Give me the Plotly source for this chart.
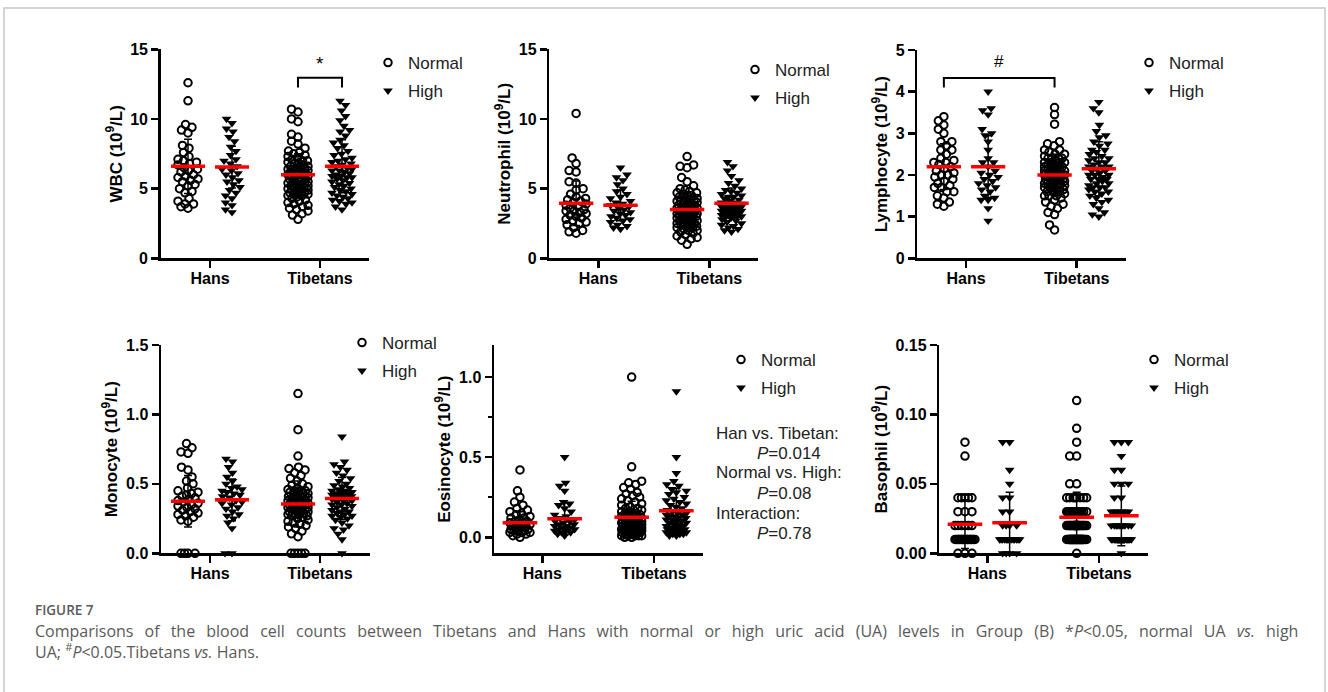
import numpy as np
import plotly.graph_objects as go

W, H = 1328, 692

categories = ["Hans", "Tibetans"]
ua_levels = ["Normal", "High"]

# ---------------- data ----------------
wbc_hans_normal = [12.6, 11.3, 9.6, 9.4, 9.2, 9.0, 8.1, 7.9, 7.6, 7.3, 7.1, 7.0, 6.9, 6.8, 6.7, 6.5, 6.4, 6.3,
                   6.2, 6.0, 5.9, 5.8, 5.7, 5.6, 5.5, 5.3, 5.2, 5.0, 4.8, 4.7, 4.3, 4.1, 3.9, 3.9, 3.7, 3.6]
wbc_hans_high = [10.0, 9.7, 9.3, 9.1, 8.7, 8.4, 8.0, 7.7, 7.4, 7.1, 7.0, 6.8, 6.6, 6.4, 6.3, 6.1, 6.0, 5.8,
                 5.6, 5.5, 5.3, 5.1, 4.9, 4.7, 4.5, 4.3, 4.0, 3.8, 3.5, 3.3]
wbc_tib_normal = [10.7, 10.5, 10.0, 9.8, 8.9, 8.7, 8.4, 8.2, 7.9, 7.7, 7.6, 7.5, 7.4, 7.3, 7.2, 7.1, 7.0, 7.0,
                  6.9, 6.8, 6.8, 6.7, 6.6, 6.6, 6.5, 6.5, 6.4, 6.4, 6.3, 6.3, 6.2, 6.2, 6.1, 6.1, 6.0, 6.0,
                  5.9, 5.9, 5.8, 5.8, 5.7, 5.7, 5.6, 5.6, 5.5, 5.5, 5.4, 5.4, 5.3, 5.3, 5.2, 5.2, 5.1, 5.1,
                  5.0, 5.0, 4.9, 4.9, 4.8, 4.8, 4.7, 4.7, 4.7, 4.6, 4.6, 4.5, 4.5, 4.4, 4.3, 4.2, 4.1, 4.0,
                  3.9, 3.8, 3.7, 3.6, 3.5, 3.4, 3.2, 3.1, 2.8, 6.0, 6.2, 5.9, 6.4]
wbc_tib_high = [11.3, 11.0, 10.6, 10.2, 9.9, 9.5, 9.2, 9.1, 8.8, 8.5, 8.3, 8.1, 7.9, 7.7, 7.5, 7.4, 7.2, 7.1,
                7.0, 6.9, 6.8, 6.7, 6.6, 6.5, 6.4, 6.3, 6.2, 6.1, 6.0, 5.9, 5.9, 5.8, 5.8, 5.7, 5.6, 5.5,
                5.4, 5.3, 5.2, 5.1, 5.0, 4.9, 4.8, 4.7, 4.6, 4.5, 4.4, 4.3, 4.2, 4.1, 4.0, 3.9, 3.7, 3.5, 6.3]

neu_hans_normal = [10.4, 7.2, 6.8, 6.3, 6.2, 5.5, 5.4, 5.0, 4.9, 4.6, 4.4, 4.3, 4.2, 4.1, 4.0, 3.9, 3.8, 3.7,
                   3.6, 3.5, 3.4, 3.4, 3.3, 3.2, 3.1, 3.0, 2.9, 2.8, 2.7, 2.6, 2.5, 2.4, 2.2, 2.0, 1.9, 1.8]
neu_hans_high = [6.5, 6.0, 5.8, 5.6, 5.3, 5.0, 4.8, 4.6, 4.4, 4.3, 4.1, 4.0, 3.9, 3.8, 3.7, 3.6, 3.5, 3.4,
                 3.3, 3.2, 3.1, 3.0, 2.9, 2.8, 2.7, 2.6, 2.4, 2.3, 2.2, 2.1]
neu_tib_normal = [7.3, 6.7, 6.6, 6.5, 5.8, 5.5, 5.2, 5.0, 4.9, 4.8, 4.7, 4.7, 4.6, 4.5, 4.5, 4.4, 4.3, 4.3,
                  4.2, 4.1, 4.1, 4.0, 4.0, 3.9, 3.9, 3.8, 3.8, 3.7, 3.7, 3.6, 3.6, 3.5, 3.5, 3.4, 3.4, 3.4,
                  3.3, 3.3, 3.2, 3.2, 3.1, 3.1, 3.0, 3.0, 3.0, 2.9, 2.9, 2.8, 2.8, 2.7, 2.7, 2.6, 2.6, 2.5,
                  2.5, 2.4, 2.4, 2.3, 2.3, 2.2, 2.2, 2.1, 2.0, 2.0, 1.9, 1.8, 1.7, 1.6, 1.5, 1.4, 1.3, 1.0,
                  3.5, 3.6, 3.2, 2.9, 4.2, 3.8, 2.5, 3.1]
neu_tib_high = [6.9, 6.6, 6.3, 5.9, 5.6, 5.4, 5.2, 5.0, 4.9, 4.8, 4.7, 4.6, 4.5, 4.4, 4.3, 4.2, 4.1, 4.0,
                4.0, 3.9, 3.9, 3.8, 3.8, 3.7, 3.7, 3.6, 3.6, 3.5, 3.5, 3.4, 3.4, 3.3, 3.3, 3.2, 3.2, 3.1,
                3.1, 3.0, 3.0, 2.9, 2.8, 2.7, 2.6, 2.5, 2.4, 2.3, 2.2, 2.1, 2.0, 1.9, 3.6, 3.9, 4.4, 3.4, 3.0]

lym_hans_normal = [3.4, 3.3, 3.2, 3.1, 3.0, 2.8, 2.8, 2.7, 2.6, 2.6, 2.5, 2.4, 2.35, 2.3, 2.3, 2.25, 2.2,
                   2.15, 2.1, 2.05, 2.0, 2.0, 1.95, 1.9, 1.85, 1.8, 1.75, 1.7, 1.7, 1.6, 1.6, 1.5, 1.45,
                   1.35, 1.3, 1.25]
lym_hans_high = [4.0, 3.6, 3.55, 3.45, 3.1, 3.0, 2.95, 2.8, 2.6, 2.4, 2.3, 2.3, 2.2, 2.1, 2.05, 2.0, 1.95,
                 1.9, 1.85, 1.8, 1.75, 1.7, 1.65, 1.6, 1.5, 1.45, 1.4, 1.4, 1.2, 0.9]
lym_tib_normal = [3.62, 3.45, 3.22, 2.8, 2.75, 2.6, 2.55, 2.5, 2.45, 2.4, 2.4, 2.35, 2.3, 2.3, 2.25, 2.25,
                  2.2, 2.2, 2.15, 2.15, 2.1, 2.1, 2.1, 2.05, 2.05, 2.0, 2.0, 2.0, 1.95, 1.95, 1.9, 1.9, 1.9,
                  1.85, 1.85, 1.8, 1.8, 1.75, 1.75, 1.7, 1.7, 1.65, 1.65, 1.6, 1.6, 1.55, 1.5, 1.5, 1.45,
                  1.4, 1.35, 1.3, 1.25, 1.2, 1.1, 1.05, 0.8, 0.68, 2.4, 2.2, 2.0, 1.8, 1.6, 2.5, 2.3, 2.1,
                  1.9, 1.7, 2.6, 2.2, 2.0, 1.8, 1.5, 2.4, 2.1, 1.9, 1.7, 2.3, 2.0, 2.7]
lym_tib_high = [3.75, 3.6, 3.5, 3.2, 3.05, 2.95, 2.8, 2.75, 2.7, 2.6, 2.55, 2.5, 2.45, 2.4, 2.35, 2.3, 2.25,
                2.2, 2.2, 2.15, 2.1, 2.1, 2.05, 2.0, 2.0, 1.95, 1.9, 1.9, 1.85, 1.8, 1.8, 1.75, 1.7, 1.7,
                1.65, 1.6, 1.6, 1.55, 1.5, 1.45, 1.4, 1.35, 1.3, 1.2, 1.1, 1.05, 1.0, 2.4, 2.0, 1.9, 2.3,
                1.7, 2.6, 2.9, 2.2]

mon_hans_normal = [0.79, 0.76, 0.73, 0.72, 0.62, 0.60, 0.55, 0.52, 0.50, 0.47, 0.45, 0.44, 0.43, 0.42,
                   0.41, 0.40, 0.39, 0.38, 0.37, 0.36, 0.35, 0.34, 0.33, 0.32, 0.31, 0.30, 0.29, 0.28,
                   0.27, 0.26, 0.24, 0.23, 0.0, 0.0, 0.0, 0.0]
mon_hans_high = [0.68, 0.66, 0.62, 0.58, 0.55, 0.52, 0.50, 0.48, 0.47, 0.46, 0.45, 0.44, 0.43, 0.42, 0.41,
                 0.40, 0.38, 0.37, 0.36, 0.35, 0.33, 0.32, 0.30, 0.28, 0.27, 0.25, 0.22, 0.18, 0.0, 0.0]
mon_tib_normal = [1.15, 0.89, 0.70, 0.62, 0.61, 0.60, 0.58, 0.56, 0.54, 0.52, 0.50, 0.49, 0.48, 0.47,
                  0.46, 0.45, 0.45, 0.44, 0.44, 0.43, 0.43, 0.42, 0.42, 0.41, 0.41, 0.40, 0.40, 0.39,
                  0.39, 0.38, 0.38, 0.37, 0.37, 0.36, 0.36, 0.35, 0.35, 0.34, 0.34, 0.33, 0.33, 0.32,
                  0.32, 0.31, 0.31, 0.30, 0.30, 0.30, 0.29, 0.29, 0.28, 0.28, 0.27, 0.27, 0.26, 0.25,
                  0.24, 0.23, 0.22, 0.21, 0.20, 0.19, 0.18, 0.16, 0.14, 0.12, 0.0, 0.0, 0.0, 0.0, 0.0,
                  0.40, 0.35, 0.45, 0.30, 0.42, 0.38, 0.33, 0.28, 0.36]
mon_tib_high = [0.84, 0.66, 0.64, 0.62, 0.60, 0.58, 0.56, 0.54, 0.52, 0.50, 0.49, 0.48, 0.47, 0.46, 0.45,
                0.44, 0.44, 0.43, 0.43, 0.42, 0.42, 0.41, 0.40, 0.40, 0.39, 0.38, 0.37, 0.36, 0.35, 0.34,
                0.33, 0.32, 0.31, 0.30, 0.29, 0.28, 0.27, 0.26, 0.25, 0.24, 0.22, 0.20, 0.18, 0.17, 0.14,
                0.10, 0.0, 0.41, 0.43, 0.45, 0.38, 0.35, 0.30, 0.27, 0.42]

eos_hans_normal = [0.42, 0.29, 0.25, 0.22, 0.20, 0.18, 0.17, 0.16, 0.15, 0.14, 0.13, 0.12, 0.12, 0.11,
                   0.10, 0.10, 0.09, 0.09, 0.08, 0.08, 0.07, 0.07, 0.06, 0.06, 0.05, 0.05, 0.04, 0.04,
                   0.04, 0.03, 0.03, 0.03, 0.02, 0.02, 0.01, 0.0]
eos_hans_high = [0.50, 0.34, 0.32, 0.29, 0.22, 0.21, 0.20, 0.18, 0.16, 0.14, 0.13, 0.12, 0.11, 0.10, 0.10,
                 0.09, 0.08, 0.08, 0.07, 0.07, 0.06, 0.06, 0.05, 0.05, 0.04, 0.04, 0.03, 0.03, 0.02, 0.01]
eos_tib_normal = [1.0, 0.44, 0.35, 0.34, 0.33, 0.31, 0.30, 0.28, 0.27, 0.26, 0.25, 0.24, 0.23, 0.22, 0.21,
                  0.20, 0.19, 0.18, 0.18, 0.17, 0.17, 0.16, 0.16, 0.15, 0.15, 0.14, 0.14, 0.13, 0.13,
                  0.12, 0.12, 0.12, 0.11, 0.11, 0.11, 0.10, 0.10, 0.10, 0.09, 0.09, 0.09, 0.08, 0.08,
                  0.08, 0.07, 0.07, 0.07, 0.07, 0.06, 0.06, 0.06, 0.06, 0.05, 0.05, 0.05, 0.05, 0.04,
                  0.04, 0.04, 0.04, 0.03, 0.03, 0.03, 0.03, 0.02, 0.02, 0.02, 0.02, 0.01, 0.01, 0.01,
                  0.01, 0.01, 0.0, 0.0, 0.05, 0.06, 0.08, 0.09, 0.10, 0.12, 0.13, 0.07, 0.04, 0.03]
eos_tib_high = [0.91, 0.50, 0.40, 0.35, 0.33, 0.32, 0.30, 0.29, 0.28, 0.27, 0.25, 0.24, 0.23, 0.22, 0.21,
                0.20, 0.19, 0.18, 0.17, 0.16, 0.15, 0.15, 0.14, 0.13, 0.13, 0.12, 0.11, 0.11, 0.10, 0.10,
                0.09, 0.09, 0.08, 0.08, 0.07, 0.07, 0.06, 0.06, 0.05, 0.05, 0.04, 0.04, 0.04, 0.03, 0.03,
                0.03, 0.02, 0.02, 0.02, 0.01, 0.01, 0.12, 0.14, 0.06, 0.05]

bas_hans_normal = [0.08, 0.07, 0.04, 0.04, 0.04, 0.04, 0.04, 0.03, 0.03, 0.03, 0.02, 0.02, 0.02, 0.02,
                   0.02, 0.02, 0.01, 0.01, 0.01, 0.01, 0.01, 0.01, 0.01, 0.01, 0.01, 0.01, 0.01, 0.01,
                   0.01, 0.01, 0.01, 0.01, 0.01, 0.0, 0.0, 0.0]
bas_hans_high = [0.08, 0.08, 0.06, 0.05, 0.04, 0.04, 0.03, 0.03, 0.02, 0.02, 0.02, 0.02, 0.01, 0.01, 0.01,
                 0.01, 0.01, 0.01, 0.01, 0.01, 0.01, 0.01, 0.01, 0.01, 0.01, 0.01, 0.0, 0.0, 0.0, 0.0]
bas_tib_normal = [0.11, 0.09, 0.08, 0.07, 0.07, 0.05, 0.05, 0.04, 0.04, 0.04, 0.04, 0.04, 0.04, 0.04, 0.04,
                  0.03, 0.03, 0.03, 0.03, 0.03, 0.03, 0.03, 0.03, 0.03, 0.03, 0.03, 0.03,
                  0.02, 0.02, 0.02, 0.02, 0.02, 0.02, 0.02, 0.02, 0.02, 0.02, 0.02, 0.02, 0.02, 0.02,
                  0.02, 0.02, 0.02, 0.02, 0.02, 0.02, 0.02, 0.02,
                  0.01, 0.01, 0.01, 0.01, 0.01, 0.01, 0.01, 0.01, 0.01, 0.01, 0.01, 0.01, 0.01, 0.01,
                  0.01, 0.01, 0.01, 0.01, 0.01, 0.01, 0.01, 0.01, 0.01, 0.01, 0.01, 0.01, 0.01, 0.01,
                  0.01, 0.01, 0.01, 0.01, 0.01, 0.01, 0.0]
bas_tib_high = [0.08, 0.08, 0.08, 0.07, 0.06, 0.06, 0.05, 0.05, 0.05, 0.04, 0.04, 0.03, 0.03, 0.03, 0.03,
                0.03, 0.03, 0.02, 0.02, 0.02, 0.02, 0.02, 0.02, 0.02, 0.02, 0.02, 0.02,
                0.01, 0.01, 0.01, 0.01, 0.01, 0.01, 0.01, 0.01, 0.01, 0.01, 0.01, 0.01, 0.01, 0.01,
                0.01, 0.01, 0.01, 0.01, 0.01, 0.01, 0.01, 0.01, 0.01, 0.01, 0.01, 0.01, 0.0]

# group means and SDs, order: Hans-Normal, Hans-High, Tibetans-Normal, Tibetans-High
wbc_mean = [6.6, 6.55, 6.0, 6.6]
wbc_sd = [1.95, 1.5, 1.5, 1.9]
neu_mean = [3.95, 3.8, 3.5, 3.95]
neu_sd = [1.6, 1.1, 1.2, 1.1]
lym_mean = [2.2, 2.2, 2.0, 2.15]
lym_sd = [0.55, 0.74, 0.5, 0.65]
mon_mean = [0.375, 0.385, 0.355, 0.395]
mon_sd = [0.185, 0.15, 0.165, 0.15]
eos_mean = [0.09, 0.115, 0.125, 0.165]
eos_sd = [0.07, 0.1, 0.1, 0.14]
bas_mean = [0.021, 0.022, 0.026, 0.027]
bas_sd = [0.0175, 0.022, 0.018, 0.0215]

titles = ["WBC (10<sup>9</sup>/L)", "Neutrophil (10<sup>9</sup>/L)", "Lymphocyte (10<sup>9</sup>/L)",
          "Monocyte (10<sup>9</sup>/L)", "Eosinocyte (10<sup>9</sup>/L)", "Basophil (10<sup>9</sup>/L)"]
ytick_vals = [[0, 5, 10, 15], [0, 5, 10, 15], [0, 1, 2, 3, 4, 5], [0, 0.5, 1.0, 1.5], [0, 0.5, 1.0],
              [0, 0.05, 0.10, 0.15]]
ytick_text = [["0", "5", "10", "15"], ["0", "5", "10", "15"], ["0", "1", "2", "3", "4", "5"],
              ["0.0", "0.5", "1.0", "1.5"], ["0.0", "0.5", "1.0"], ["0.00", "0.05", "0.10", "0.15"]]
y_ranges = [[0, 15], [0, 15], [0, 5], [0, 1.5], [-0.1, 1.2], [0, 0.15]]

stats_text = ["Han vs. Tibetan:", "<i>P</i>=0.014", "Normal vs. High:", "<i>P</i>=0.08",
              "Interaction:", "<i>P</i>=0.78"]

caption_label = "FIGURE 7"
caption_line1 = ("Comparisons of the blood cell counts between Tibetans and Hans with normal or high "
                 "uric acid (UA) levels in Group (B) *<i>P</i>&lt;0.05, normal UA <i>vs.</i> high")
caption_line2 = "UA; <sup>#</sup><i>P</i>&lt;0.05.Tibetans <i>vs.</i> Hans."

panels_data = [
    (wbc_hans_normal, wbc_hans_high, wbc_tib_normal, wbc_tib_high, wbc_mean, wbc_sd),
    (neu_hans_normal, neu_hans_high, neu_tib_normal, neu_tib_high, neu_mean, neu_sd),
    (lym_hans_normal, lym_hans_high, lym_tib_normal, lym_tib_high, lym_mean, lym_sd),
    (mon_hans_normal, mon_hans_high, mon_tib_normal, mon_tib_high, mon_mean, mon_sd),
    (eos_hans_normal, eos_hans_high, eos_tib_normal, eos_tib_high, eos_mean, eos_sd),
    (bas_hans_normal, bas_hans_high, bas_tib_normal, bas_tib_high, bas_mean, bas_sd),
]

# ---------------- layout geometry (pixels) ----------------
# plot box: x0, x1, y_top, y_bottom ; pixel of Hans / Tibetans ticks
boxes = [(160.7, 369, 49.3, 258.3, 210, 320),
         (549.3, 758, 49.3, 258.3, 598.3, 709.3),
         (917.3, 1126, 50, 258.3, 966, 1076.7),
         (161, 370, 345, 553.3, 210, 320),
         (494, 702.7, 345, 553.3, 542.3, 654),
         (939.3, 1148, 345, 553.3, 987.3, 1099)]
legend_pos = [(388, 63), (755, 70), (1149, 63), (362, 343), (741, 360), (1154, 360)]

OFF = 0.2       # dodge of Normal/High within a group (category units)
HALF = 0.155    # half length of mean line
FONT = "Liberation Sans, Arial, sans-serif"


def swarm(vals, ppu, d=6.8, maxhalf=10.0):
    ys = np.asarray(vals, float) * ppu
    order = np.argsort(ys, kind="stable")
    cands = np.arange(-maxhalf, maxhalf + 0.01, 0.5)
    cands = cands[np.argsort(np.abs(cands), kind="stable")]
    xs = np.zeros(len(ys))
    px, py = [], []
    for i in order:
        y = ys[i]
        x = 0.0
        if px:
            ax = np.array(px)
            ay = np.array(py)
            near = np.abs(ay - y) < d
            if near.any():
                dx = cands[:, None] - ax[near][None, :]
                dy = (ay[near] - y)[None, :]
                dist = np.sqrt(dx ** 2 + dy ** 2).min(axis=1)
                ok = dist >= d
                x = cands[np.argmax(ok)] if ok.any() else cands[np.argmax(dist)]
        xs[i] = x
        px.append(x)
        py.append(y)
    return xs


fig = go.Figure()
layout = {}

for k, (box, data) in enumerate(zip(boxes, panels_data)):
    n = k + 1
    sfx = "" if n == 1 else str(n)
    x0, x1, yt, yb, ph, pt = box
    scale = pt - ph
    xr = [(x0 - ph) / scale, (x1 - ph) / scale]
    yr = y_ranges[k]
    ppu_y = (yb - yt) / (yr[1] - yr[0])
    centers = [0 - OFF, 0 + OFF, 1 - OFF, 1 + OFF]
    sym = ["circle-open", "triangle-down", "circle-open", "triangle-down"]
    lg = "legend" if n == 1 else f"legend{n}"
    for g in range(4):
        vals = data[g]
        offs = swarm(vals, ppu_y) / scale
        is_normal = g % 2 == 0
        fig.add_trace(go.Scatter(
            x=centers[g] + offs, y=vals, mode="markers", xaxis=f"x{sfx}", yaxis=f"y{sfx}",
            name=ua_levels[g % 2], legend=lg, legendgroup=ua_levels[g % 2], showlegend=g < 2,
            cliponaxis=False, hoverinfo="skip",
            marker=dict(symbol=sym[g], size=7.5 if is_normal else 8.5, color="black",
                        line=dict(color="black", width=2 if is_normal else 0))))
    means, sds = data[4], data[5]
    fig.add_trace(go.Scatter(
        x=centers, y=means, mode="markers", xaxis=f"x{sfx}", yaxis=f"y{sfx}", showlegend=False,
        marker=dict(size=1, opacity=0), cliponaxis=False, hoverinfo="skip",
        error_y=dict(type="data", array=sds, color="black", thickness=1.5, width=4)))
    lx, ly = [], []
    for c, m in zip(centers, means):
        lx += [c - HALF, c + HALF, None]
        ly += [m, m, None]
    fig.add_trace(go.Scatter(x=lx, y=ly, mode="lines", xaxis=f"x{sfx}", yaxis=f"y{sfx}",
                             showlegend=False, line=dict(color="#ff0000", width=3.5),
                             cliponaxis=False, hoverinfo="skip"))

    layout[f"xaxis{sfx}"] = dict(
        domain=[x0 / W, x1 / W], range=xr, anchor=f"y{sfx}", showgrid=False, zeroline=False,
        showline=True, linecolor="black", linewidth=2.5, ticks="outside", ticklen=7, tickwidth=2.5,
        tickcolor="black", tickvals=[0, 1], ticktext=categories, automargin=False,
        ticklabelstandoff=-3, fixedrange=True,
        tickfont=dict(family=FONT, size=16, color="black", weight="bold"))
    ydict = dict(
        domain=[1 - yb / H, 1 - yt / H], range=yr, anchor=f"x{sfx}", showgrid=False, zeroline=False,
        showline=True, linecolor="black", linewidth=2.5, ticks="outside", ticklen=7, tickwidth=2.5,
        tickcolor="black", tickvals=ytick_vals[k], ticktext=ytick_text[k], automargin=False,
        fixedrange=True,
        tickfont=dict(family=FONT, size=16, color="black", weight="bold"),
        title=dict(text=titles[k], standoff=4,
                   font=dict(family=FONT, size=17, color="black", weight="bold")))
    if n == 5:
        ydict["minor"] = dict(tick0=0, dtick=0.25, ticks="outside", ticklen=4, tickwidth=2.5,
                              tickcolor="black")
    layout[f"yaxis{sfx}"] = ydict

    mx, my = legend_pos[k]
    layout[lg] = dict(x=(mx - 20) / W, y=1 - (my - 18) / H, xanchor="left", yanchor="top",
                      bgcolor="rgba(0,0,0,0)", tracegroupgap=3, traceorder="grouped",
                      font=dict(family=FONT, size=17, color="#222"))

annotations = []
shapes = []

# significance brackets
shapes.append(dict(type="path", xref="x", yref="y", line=dict(color="black", width=2),
                   path=f"M {1 - OFF},12.25 L {1 - OFF},12.96 L {1 + OFF},12.96 L {1 + OFF},12.25"))
annotations.append(dict(xref="x", yref="y", x=1, y=14.0, text="*", showarrow=False,
                        font=dict(family=FONT, size=19, color="black")))
shapes.append(dict(type="path", xref="x3", yref="y3", line=dict(color="black", width=2),
                   path=f"M {0 - OFF},4.1 L {0 - OFF},4.33 L {1 - OFF},4.33 L {1 - OFF},4.1"))
annotations.append(dict(xref="x3", yref="y3", x=0.5 - OFF, y=4.72, text="#", showarrow=False,
                        font=dict(family=FONT, size=17, color="black")))

# two-way ANOVA text
stat_y = [433, 453, 473, 493, 513, 533]
stat_x = [714, 754.5, 714, 754.5, 714, 754.5]
for t, sx, sy in zip(stats_text, stat_x, stat_y):
    annotations.append(dict(xref="paper", yref="paper", x=sx / W, y=1 - sy / H, xanchor="left",
                            yanchor="middle", text=t, showarrow=False,
                            font=dict(family=FONT, size=17, color="#222")))

# caption (first line is justified in the original -> widen the word gaps)
annotations.append(dict(xref="paper", yref="paper", x=33 / W, y=1 - 610 / H, xanchor="left",
                        yanchor="middle", text=caption_label, showarrow=False,
                        font=dict(family="Open Sans", size=13.5, color="#5a5a5a", weight=600)))
annotations.append(dict(xref="paper", yref="paper", x=33 / W, y=1 - 641 / H, xanchor="left",
                        yanchor="middle", showarrow=False, align="left",
                        text=caption_line1.replace(" ", " \u2004\u200a") + "<br>" + caption_line2,
                        font=dict(family="Open Sans", size=16, color="#5a5a5a")))

# outer frame
shapes.append(dict(type="rect", xref="paper", yref="paper", x0=4 / W, x1=1325 / W, y0=-0.05,
                   y1=1 - 8 / H, line=dict(color="#c8c8c8", width=1.5), layer="below"))

fig.update_layout(width=W, height=H, margin=dict(l=0, r=0, t=0, b=0), paper_bgcolor="white",
                  plot_bgcolor="white", annotations=annotations, shapes=shapes, hovermode=False,
                  font=dict(family=FONT, color="black"), **layout)

fig.write_html("out.html", config={"displayModeBar": False, "staticPlot": True},
               post_script="document.body.style.margin='0px';"
                           "document.body.style.overflow='hidden';"
                           "document.documentElement.style.overflow='hidden';")
